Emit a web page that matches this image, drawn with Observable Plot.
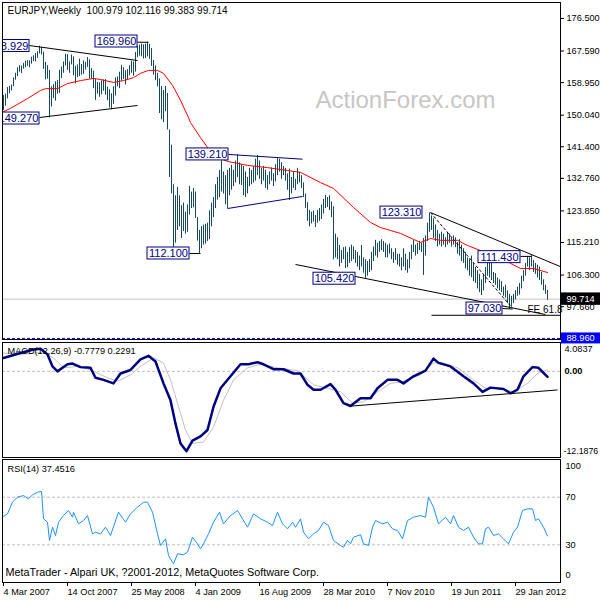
<!DOCTYPE html>
<html><head><meta charset="utf-8">
<script src="https://cdn.jsdelivr.net/npm/d3@7"></script>
<script src="https://cdn.jsdelivr.net/npm/@observablehq/plot@0.6"></script>
<style>
body{margin:0;background:#fff;}
#chart{position:relative;width:600px;height:600px;overflow:hidden;background:#fff;}
#chart svg{position:absolute;left:0;top:0;}
</style></head><body><div id="chart"></div>
<script>
// ---------- data ----------
const symbolTitle = "EURJPY,Weekly  100.979 102.116 99.383 99.714";
const macdTitle = "MACD(12,26,9) -0.7779 0.2291";
const rsiTitle = "RSI(14) 37.4516";
const captionText = "MetaTrader - Alpari UK, ?2001-2012, MetaQuotes Software Corp.";
const watermark = "ActionForex.com";
const firstWeek = "2007-03-04";

const weeklyHigh = [
155.4,155.8,157.6,157.9,158.3,160.2,161.5,163.0,163.6,163.5,164.2,164.8,165.0,164.9,165.9,166.3,166.9,167.4,168.9,168.6,
167.3,164.5,163.6,162.3,157.8,158.4,159.2,159.5,162.3,163.2,164.6,166.7,166.6,164.6,166.5,166.0,163.4,163.8,165.4,163.9,
164.9,164.5,165.8,165.2,162.8,162.1,159.8,159.0,158.9,159.4,159.7,159.8,157.7,157.0,155.9,157.8,160.2,160.5,161.8,163.7,
163.0,162.2,162.5,163.6,164.8,164.6,167.2,168.9,169.2,169.5,169.3,169.5,170.0,169.4,168.3,165.0,163.5,161.5,160.0,157.9,
156.8,157.9,156.0,146.0,141.8,131.0,128.0,130.3,128.0,125.3,126.0,123.5,125.5,130.6,129.0,130.0,129.0,122.0,118.5,119.6,
120.0,120.2,120.5,123.9,126.0,127.5,131.0,133.0,134.9,137.6,134.5,133.5,134.9,135.5,136.3,135.0,137.5,139.2,137.0,136.5,
136.0,134.5,133.0,135.5,134.9,136.0,138.0,139.0,137.5,135.5,136.0,135.0,133.5,134.5,135.6,134.0,136.5,138.4,138.0,137.0,
136.0,135.5,134.0,135.3,133.0,134.5,132.5,135.5,134.4,133.5,131.5,128.5,126.1,124.0,123.5,123.8,122.6,124.0,124.5,125.5,
127.0,128.1,127.5,128.0,126.3,125.0,117.5,116.5,114.4,113.0,113.8,114.0,112.5,113.8,114.5,114.0,113.0,112.5,111.5,114.4,
111.0,110.5,110.0,110.5,112.5,114.0,115.8,115.0,115.5,116.0,115.5,115.0,114.5,114.8,113.5,112.5,113.5,112.0,112.0,111.0,
113.5,112.0,110.5,112.5,114.5,115.8,114.5,115.0,115.5,115.0,116.3,117.0,120.5,123.3,122.5,121.7,120.0,118.5,117.5,118.0,
117.5,116.5,118.0,117.5,116.5,117.0,116.5,115.2,116.0,114.5,113.5,112.5,111.0,110.5,111.5,109.5,108.4,107.5,106.5,105.0,
106.5,108.4,110.0,109.5,111.6,107.0,106.7,105.5,105.0,104.5,103.0,103.5,102.0,101.0,100.5,101.0,102.0,103.0,104.0,106.0,
107.5,109.5,111.4,111.0,111.6,110.3,109.5,109.0,108.5,107.0,105.0,103.5,102.116
];
const weeklyLow = [
151.3,152.5,154.5,155.9,156.7,157.8,159.6,160.6,161.8,161.4,162.6,163.0,163.4,163.0,164.0,164.7,164.6,165.6,166.8,166.5,
162.6,159.7,159.9,149.3,152.3,154.6,153.9,155.8,156.0,160.1,161.5,163.5,162.3,161.5,163.8,160.8,158.6,160.3,160.6,161.0,
161.2,162.4,163.1,160.0,159.8,157.3,154.1,155.8,154.9,155.6,156.6,155.5,154.0,152.0,151.5,153.0,155.3,157.8,157.3,159.3,
159.8,158.3,159.7,160.8,161.5,160.7,161.8,165.8,166.2,166.0,165.4,165.5,166.0,165.3,163.4,161.0,159.5,157.8,150.5,148.8,
148.0,151.0,146.0,133.0,128.5,113.6,115.0,118.5,119.5,116.3,118.2,117.5,118.0,122.7,124.5,124.7,121.8,115.6,112.1,113.5,
114.5,114.8,115.5,116.0,119.5,122.0,124.5,126.8,127.5,129.0,128.5,125.5,124.5,128.0,129.5,130.5,131.5,133.0,131.0,130.8,
128.0,127.5,128.5,130.5,131.0,131.5,132.0,133.5,132.5,131.0,132.0,130.0,129.5,131.0,132.0,130.5,131.8,133.5,134.5,132.5,
133.5,132.0,129.5,126.7,128.5,130.0,129.4,131.0,131.5,130.0,127.5,124.5,121.0,119.5,120.3,120.8,119.3,120.5,121.0,121.5,
123.0,124.5,124.8,124.0,122.0,110.5,111.0,110.5,108.5,109.5,110.5,108.1,108.3,109.5,110.0,110.5,109.5,108.5,107.5,108.5,
106.8,105.4,106.0,107.0,107.5,110.0,111.5,111.0,112.5,113.0,112.5,111.0,111.0,112.0,110.5,109.5,110.3,109.0,108.5,107.5,
108.5,107.5,106.8,108.0,110.5,112.5,111.5,112.0,113.0,112.5,106.2,111.5,115.5,118.0,118.5,116.3,115.5,114.0,114.5,114.0,
114.5,113.8,114.5,115.0,114.0,114.5,113.8,112.0,111.5,110.0,109.5,108.0,107.5,106.0,105.6,104.5,104.0,102.5,101.5,100.7,
102.0,104.0,106.0,105.5,104.8,104.0,103.5,102.5,102.0,101.5,100.5,100.0,98.5,97.0,97.5,98.5,99.5,100.5,100.8,102.5,
104.5,106.0,108.5,107.5,108.5,107.0,106.5,105.5,104.8,103.5,102.0,101.0,99.383
];

// red moving average, read at irregular weeks
const maWeek  = [0,3.5,12,18.5,21,27,32,38.5,45,48.5,55,60,65,68.5,72.5,77,80,84.5,88.5,92.5,93.5,98.5,102,107,112,122,132,142,148.5,158.5,165,175,183.5,188.5,198.5,208.5,213.5,218.5,227,232,238.5,248.5,253.5,258.5,265,272];
const maValue = [151.0,151.9,154.6,156.8,157.3,157.3,158.7,159.5,160.1,159.8,159.0,159.5,160.3,161.5,162.3,162.3,161.5,158.2,154.1,149.4,148.0,143.9,141.2,138.5,137.4,136.3,135.7,134.9,134.4,131.6,130.0,124.8,120.7,119.3,117.7,115.2,116.3,115.8,115.8,114.4,113.0,111.1,109.5,108.1,108.1,107.0];

const macdWeek  = [0,8.5,15,18.5,22,24.5,27,29.5,32,34.5,38.5,43.5,46,50,55,58.5,63.5,68.5,72.5,76,80,83.5,86,88.5,91.5,94.5,98.5,102,105,108.5,113.5,118.5,122.5,127,130,135,140,145,148.5,152,155,158.5,163.5,166,170,173.5,178.5,183.5,187,192,197,200,205,211,215,217.5,223.5,230,235,239.5,243.5,250,253.5,257,260,264.5,267.5,272];
const macdValue = [1.9,2.6,3.1,3.2,2.4,0.7,0.0,0.5,1.0,1.1,0.6,0.5,-0.9,-1.2,-1.7,-0.3,0.2,1.7,2.2,1.4,-1.7,-4.1,-7.4,-10.2,-11.3,-9.8,-9.2,-8.3,-5.0,-2.4,-0.7,1.0,1.0,1.3,1.0,0.3,0.3,-0.3,-0.3,-1.9,-2.6,-2.6,-1.8,-2.6,-4.5,-4.9,-3.8,-3.8,-2.4,-1.2,-1.2,-1.7,-0.7,0.1,1.8,1.2,0.7,-0.7,-1.7,-2.9,-2.3,-2.5,-3.1,-2.6,-0.7,0.6,0.5,-0.7779];
const signalWeek  = [0,8.5,20,25,30,37,43.5,52,57,63.5,68.5,75,80,83.5,87,91,94.5,100,105,110,115,122,128.5,137,147,155,162,168.5,174.5,180,187,193.5,200,208.5,215,220,227,235,241,248.5,255,262,267,272];
const signalValue = [2.6,2.4,2.7,1.9,0.5,0.7,0.2,-0.9,-1.4,-0.5,0.7,1.9,1.2,-1.2,-4.5,-8.3,-10.2,-10.0,-7.9,-4.1,-1.2,0.5,1.0,0.5,0.1,-1.9,-2.4,-2.9,-4.5,-4.3,-2.9,-1.7,-1.4,-0.5,1.2,1.2,0.5,-1.2,-2.4,-2.4,-2.9,-1.7,-0.3,0.2291];

const rsiWeek  = [0,2,4.5,7,10,12.5,14.5,17,19,20,22,23,24.5,26,27.5,30,32.5,34.5,35,37.5,40,42,44.5,46,48.5,51,53.5,57.5,61,63.5,67,70,72,74.5,77,78.5,81,82.5,85,87,90,92,94.5,97,98.5,100,102.5,105,108,110,113.5,117,119.5,122,125,128.5,132,134.5,137,139.5,142,144.5,146,148.5,150,152.5,155,157.5,160,162.5,165,168.5,170,172,173.5,175,178.5,180,182.5,184.5,186,189.5,192,194.5,197,199.5,202,205,208.5,211,212.5,215,217.5,221,223.5,225,227.5,230,232.5,235,237.5,239.5,241,242.5,245,247.5,250,252.5,255,257,259.5,262,264.5,266,267.5,270,272];
const rsiValue = [54,56,66,70,71.4,68.7,72,74.2,74.8,51.8,49,33.6,44.8,37.8,49,54.6,58.8,53.2,57.4,47.6,50.4,54.6,39.2,40.6,39.2,44.8,37.8,57.4,49,56,61.6,65.8,65.8,57.4,39.2,29.4,35,21,14,22.4,21.6,23.8,36.4,30.8,26.6,30.8,39.2,49,57.4,47.6,54.6,58.8,51.8,44.8,56,51.8,49,46.2,57.4,47.6,43.4,49,44.8,51.8,40.6,35,39.2,42,49,46.2,33.6,29.4,28,33.6,30.8,36.4,38.4,30.8,29.4,44.8,50.4,47.6,49,43.4,42,35,50.4,53.2,54.6,53.2,70,61.6,47.6,53.2,47.6,54.6,44.8,42,44.8,36.4,30.8,30.8,43.4,44.8,37.8,39.2,35,30.8,40.6,44.8,58.8,60.2,60.2,50.4,51.8,44.8,37.4516];

const xTickLabels = ["4 Mar 2007","14 Oct 2007","25 May 2008","4 Jan 2009","16 Aug 2009","28 Mar 2010","7 Nov 2010","19 Jun 2011","29 Jan 2012"];
const priceTicks = [176.5,167.59,158.95,150.04,141.4,132.76,123.85,115.21,106.3,97.66];
const lastClose = 99.714;
const stopLevel = 88.96;
const macdTop = 4.0837, macdBottom = -12.1876;

// annotation labels: text, week of box right edge, price at box centre
const labelText  = ["168.929","149.270","169.960","139.210","112.100","105.420","123.310","111.430","97.030"];
const labelWeek  = [13,18,67,112.5,93,176,209.5,258.5,249.5];
const labelPrice = [168.97,149.13,170.2,139.3,112.2,105.3,123.4,111.2,97.15];

// trend lines: [week1, price1, week2, price2]
const blackLines = [[13,169.1,67,165.0],[18,149.4,67,152.7],[146,109.2,271,95.5],[214,95.3,278.5,95.3],[213.5,123.4,278.5,108.6],
  [67,170.0,72.5,170.0],[93,112.2,98.5,112.2],[258.5,111.4,264,111.4],[249.5,97.15,254.5,97.0]];
const navyLines  = [[112.5,139.3,149.5,138.0],[112,124.5,149.5,127.8]];
const dashedLines = [[213.5,123.4,254.5,97.2]];
const macdTrend = [[173.5,-4.92,277,-2.63]];

// ---------- build ----------
const DAY = 86400000;
const t0 = Date.parse(firstWeek + "T00:00:00Z");
const wk = w => new Date(t0 + w * 7 * DAY);
const xDomain = [wk(-0.5), wk(278.5)];
const FONT = "'Liberation Sans', Arial, sans-serif";
const parseTick = d3.utcParse("%d %b %Y");

const bars = weeklyHigh.map((h, i) => ({date: wk(i), high: h, low: weeklyLow[i]}));
const ma = maWeek.map((w, i) => ({date: wk(w), v: maValue[i]}));
const macd = macdWeek.map((w, i) => ({date: wk(w), v: macdValue[i]}));
const signal = signalWeek.map((w, i) => ({date: wk(w), v: signalValue[i]}));
const rsi = rsiWeek.map((w, i) => ({date: wk(w), v: rsiValue[i]}));
const labels = labelText.map((t, i) => ({t, right: labelWeek[i], p: labelPrice[i], w: t.length > 6 ? 21 : 18}));
const toSeg = a => ({x1: wk(a[0]), y1: a[1], x2: wk(a[2]), y2: a[3]});
const seg = {x1: "x1", y1: "y1", x2: "x2", y2: "y2"};
const style = {background: "transparent", fontFamily: FONT, fontSize: "9.2px", color: "#000", overflow: "visible"};

const main = Plot.plot({
  width: 600, height: 600,
  marginTop: 2, marginBottom: 261, marginLeft: 2, marginRight: 40,
  style,
  x: {type: "utc", domain: xDomain, axis: null},
  y: {domain: [88.67, 180.87]},
  marks: [
    Plot.text([watermark], {frameAnchor: "top-left", dx: 313, dy: 88, lineAnchor: "top", textAnchor: "start", fontSize: 24, fill: "#c6c6c6"}),
    Plot.ruleY([lastClose], {stroke: "#c0c0c0"}),
    Plot.ruleY([stopLevel], {stroke: "#0000ff", strokeDasharray: "3,2"}),
    Plot.ruleX(bars, {x: "date", y1: "low", y2: "high", stroke: "#17485b", clip: true}),
    Plot.line(ma, {x: "date", y: "v", stroke: "#ff0000", strokeWidth: 1, clip: true}),
    Plot.link(blackLines.map(toSeg), {...seg, stroke: "#000", clip: true}),
    Plot.link(navyLines.map(toSeg), {...seg, stroke: "#000080", clip: true}),
    Plot.link(dashedLines.map(toSeg), {...seg, stroke: "#000", strokeDasharray: "3,2", clip: true}),
    Plot.rect(labels, {x1: d => wk(d.right - d.w), x2: d => wk(d.right), y1: d => d.p - 1.64, y2: d => d.p + 1.64, fill: "#fff", stroke: "#000080", clip: true}),
    Plot.text(labels, {x: d => wk(d.right - d.w / 2), y: "p", text: "t", fill: "#000080", fontSize: 11, clip: true}),
    Plot.text(["FE 61.8"], {x: () => wk(262), y: () => 96.9, textAnchor: "start", fontSize: 10, fill: "#000"}),
    Plot.axisY(priceTicks, {anchor: "right", tickSize: 3, tickPadding: 3, tickFormat: d => d.toFixed(3)}),
    Plot.rect([lastClose], {x1: () => wk(279), x2: () => wk(299), y1: d => d - 1.7, y2: d => d + 1.7, fill: "#000"}),
    Plot.text([lastClose], {x: () => wk(279), y: d => d, dx: 5, textAnchor: "start", fill: "#fff", text: d => d.toFixed(3)}),
    Plot.rect([stopLevel], {x1: () => wk(279), x2: () => wk(299), y1: d => d - 1.5, y2: d => d + 1.5, fill: "#0000ff"}),
    Plot.text([stopLevel], {x: () => wk(279), y: d => d, dx: 5, textAnchor: "start", fill: "#fff", text: d => d.toFixed(3)}),
    Plot.text([symbolTitle], {frameAnchor: "top-left", dx: 5, dy: 4, lineAnchor: "top", textAnchor: "start", fontSize: 10}),
    Plot.frame({stroke: "#000"})
  ]
});

const macdPlot = Plot.plot({
  width: 600, height: 600,
  marginTop: 342, marginBottom: 143, marginLeft: 2, marginRight: 40,
  style,
  x: {type: "utc", domain: xDomain, axis: null},
  y: {domain: [macdBottom, macdTop], axis: null},
  marks: [
    Plot.ruleY([0], {stroke: "#c0c0c0", strokeDasharray: "3,2"}),
    Plot.line(signal, {x: "date", y: "v", stroke: "#c0c0c0", strokeWidth: 1, clip: true}),
    Plot.line(macd, {x: "date", y: "v", stroke: "#000080", strokeWidth: 2.5, clip: true}),
    Plot.link(macdTrend.map(toSeg), {...seg, stroke: "#000"}),
    Plot.text([macdTitle], {frameAnchor: "top-left", dx: 5, dy: 5, lineAnchor: "top", textAnchor: "start"}),
    Plot.text([macdTop], {x: () => wk(279), y: d => d, dx: 3, dy: 7, textAnchor: "start", text: d => d.toFixed(4)}),
    Plot.text([0], {x: () => wk(279), y: d => d, dx: 3, textAnchor: "start", fontWeight: "bold", text: d => d.toFixed(2)}),
    Plot.text([macdBottom], {x: () => wk(279), y: d => d, dx: 2, dy: -6, textAnchor: "start", fontSize: 8.8, text: d => d.toFixed(4)}),
    Plot.frame({stroke: "#000"})
  ]
});

const rsiPlot = Plot.plot({
  width: 600, height: 600,
  marginTop: 459, marginBottom: 18, marginLeft: 2, marginRight: 40,
  style,
  x: {type: "utc", domain: xDomain},
  y: {domain: [-1.7, 101.7], axis: null},
  marks: [
    Plot.ruleY([70, 30], {stroke: "#c0c0c0", strokeDasharray: "3,2"}),
    Plot.line(rsi, {x: "date", y: "v", stroke: "#1e90ff", strokeWidth: 1, clip: true}),
    Plot.text([rsiTitle], {frameAnchor: "top-left", dx: 5, dy: 6, lineAnchor: "top", textAnchor: "start"}),
    Plot.text([captionText], {frameAnchor: "top-left", dx: 3, dy: 109, lineAnchor: "top", textAnchor: "start", fontSize: 10.8}),
    Plot.text([100], {x: () => wk(279), y: d => d, dx: 4, dy: 5, textAnchor: "start"}),
    Plot.text([70, 30], {x: () => wk(279), y: d => d, dx: 4, textAnchor: "start"}),
    Plot.text([0], {x: () => wk(279), y: d => d, dx: 4, dy: -5, textAnchor: "start"}),
    Plot.axisX(xTickLabels.map(parseTick), {anchor: "bottom", tickSize: 4, tickPadding: 2, textAnchor: "start", dx: 0, tickFormat: d3.utcFormat("%-d %b %Y"), label: null}),
    Plot.frame({stroke: "#000"})
  ]
});

const chart = document.getElementById("chart");
chart.append(main, macdPlot, rsiPlot);
</script>
</body></html>
